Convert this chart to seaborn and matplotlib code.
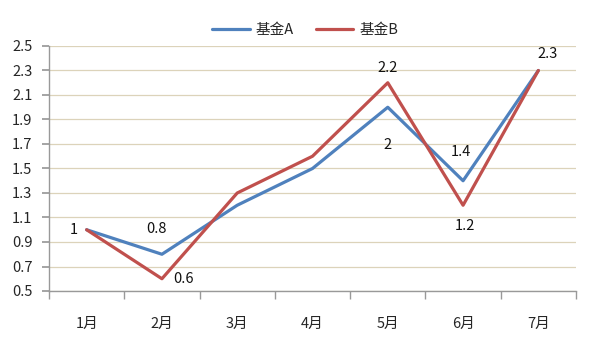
import matplotlib
matplotlib.use("Agg")
import matplotlib.pyplot as plt
import seaborn as sns
import pandas as pd
import numpy as np

months = ["1月", "2月", "3月", "4月", "5月", "6月", "7月"]
fund_a = [1.0, 0.8, 1.2, 1.5, 2.0, 1.4, 2.3]
fund_b = [1.0, 0.6, 1.3, 1.6, 2.2, 1.2, 2.3]
series_names = ["基金A", "基金B"]
yticks = [0.5, 0.7, 0.9, 1.1, 1.3, 1.5, 1.7, 1.9, 2.1, 2.3, 2.5]

sns.set_theme(style="white")
plt.rcParams['font.family'] = ['Noto Sans CJK SC', 'DejaVu Sans']

df = pd.DataFrame({
    "x": list(range(len(months))) * 2,
    "value": fund_a + fund_b,
    "series": [series_names[0]] * len(months) + [series_names[1]] * len(months),
})

fig = plt.figure(figsize=(5.9, 3.44), dpi=100)
ax = fig.add_axes([49/590, 1-291/344, (576-49)/590, (291-46)/344])

palette = {series_names[0]: "#4F81BD", series_names[1]: "#C0504D"}
sns.lineplot(data=df, x="x", y="value", hue="series", palette=palette,
             linewidth=2.3, ax=ax, legend=False, sort=False)

fs = 10.5
ax.set_xlim(-0.5, len(months) - 0.5)
ax.set_ylim(0.5, 2.5)
ax.set_yticks(yticks)
ax.set_yticklabels([f"{v:g}" for v in yticks], fontsize=fs)
ax.set_xticks(range(len(months)))
ax.set_xticklabels(months, fontsize=fs)
ax.set_xticks(np.arange(-0.5, len(months)), minor=True)
ax.tick_params(axis="x", which="major", length=0, pad=19)
ax.tick_params(axis="x", which="minor", length=6, color="#999999", direction="out", bottom=True)
ax.tick_params(axis="y", length=5, color="#999999", direction="out", left=True, pad=7)
ax.set_xlabel("")
ax.set_ylabel("")
ax.grid(axis="y", color="#DCD3BA", linewidth=0.9)
ax.set_axisbelow(True)
for s in ["top", "right"]:
    ax.spines[s].set_visible(False)
for s in ["left", "bottom"]:
    ax.spines[s].set_color("#999999")
    ax.spines[s].set_linewidth(1.0)

# data labels (offsets in pixels)
label_offsets = {
    (0, 0): (-13, 0), (0, 1): (-5, 25), (0, 4): (0, -38), (0, 5): (-2, 29), (0, 6): (9, 16),
    (1, 1): (22, 0), (1, 4): (0, 15), (1, 5): (2, -21),
}
series_vals = [fund_a, fund_b]
for (si, i), (dx, dy) in label_offsets.items():
    v = series_vals[si][i]
    ax.annotate(f"{v:g}", (i, v), xytext=(dx, dy), textcoords="offset pixels",
                ha="center", va="center", fontsize=fs, color="#111111")

from matplotlib.lines import Line2D
handles = [Line2D([0], [0], color=palette[n], linewidth=2.3) for n in series_names]
fig.legend(handles, series_names, loc="center", bbox_to_anchor=(305/590, 1-30/344),
           ncol=2, frameon=False, fontsize=fs, handlelength=2.6, columnspacing=1.5,
           handletextpad=0.4)

fig.savefig("out.png", dpi=100)
